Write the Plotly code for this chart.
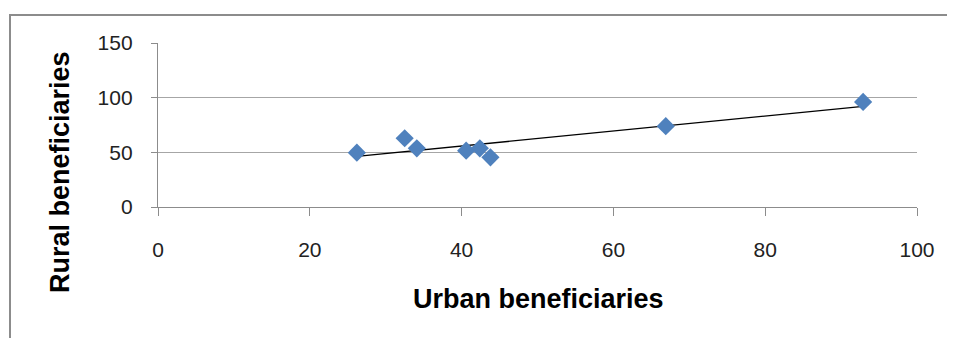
import numpy as np
import plotly.graph_objects as go

urban = [26.2, 32.5, 34.1, 40.6, 42.4, 43.8, 66.9, 92.9]
rural = [49.7, 62.9, 53.7, 51.5, 53.7, 45.4, 73.9, 96.1]
x_ticks = [0, 20, 40, 60, 80, 100]
y_ticks = [0, 50, 100, 150]
x_title = "Urban beneficiaries"
y_title = "Rural beneficiaries"

OFF = 8  # page body margin
W, H = 955 - OFF, 338 - OFF
L, T = 158 - OFF, 43 - OFF
R = W - (917 - OFF)
B = H - (207 - OFF)
pw, ph = W - L - R, H - T - B

def px_x(p):
    return (p - OFF - L) / pw

def px_y(p):
    return (H - B - (p - OFF)) / ph

slope, intercept = np.polyfit(urban, rural, 1)
tx = [min(urban), max(urban)]
ty = [slope * v + intercept for v in tx]

fig = go.Figure()
fig.add_trace(go.Scatter(x=tx, y=ty, mode="lines",
                         line=dict(color="#000000", width=1.3),
                         showlegend=False, hoverinfo="skip"))
fig.add_trace(go.Scatter(x=urban, y=rural, mode="markers",
                         marker=dict(symbol="diamond", size=14, color="#4F81BD",
                                     line=dict(width=0)),
                         showlegend=False))

tick_font = dict(family="Liberation Sans, Arial, sans-serif", size=21, color="#222222")
title_font = dict(family="Liberation Sans, Arial, sans-serif", size=27, color="#000000")

fig.update_layout(
    width=W, height=H,
    margin=dict(l=L, r=R, t=T, b=B, pad=0),
    paper_bgcolor="white", plot_bgcolor="white",
    xaxis=dict(range=[0, 100], tickvals=x_ticks, showgrid=False, zeroline=False,
               showline=True, linecolor="#8c8c8c", linewidth=1.3,
               ticks="outside", ticklen=8, tickcolor="#8c8c8c", tickwidth=1.3,
               ticklabelstandoff=16, tickfont=tick_font),
    yaxis=dict(range=[0, 150], tickvals=y_ticks, showgrid=True, gridcolor="#a6a6a6",
               gridwidth=1.3, zeroline=False,
               showline=True, linecolor="#8c8c8c", linewidth=1.3,
               ticks="outside", ticklen=6, tickcolor="#8c8c8c", tickwidth=1.3,
               ticklabelstandoff=14, tickfont=tick_font),
    shapes=[dict(type="rect", xref="paper", yref="paper",
                 x0=px_x(10), x1=px_x(955 + 20), y0=px_y(338 + 20), y1=px_y(15),
                 line=dict(color="#8c8c8c", width=2), fillcolor="rgba(0,0,0,0)",
                 layer="below")],
    annotations=[
        dict(text="<b>" + x_title + "</b>", xref="paper", yref="paper",
             x=px_x(538), y=px_y(299), showarrow=False, font=title_font,
             xanchor="center", yanchor="middle"),
        dict(text="<b>" + y_title + "</b>", xref="paper", yref="paper",
             x=px_x(60), y=px_y(172), showarrow=False, font=title_font,
             textangle=-90, xanchor="center", yanchor="middle"),
    ],
)

fig.write_html("out.html")
